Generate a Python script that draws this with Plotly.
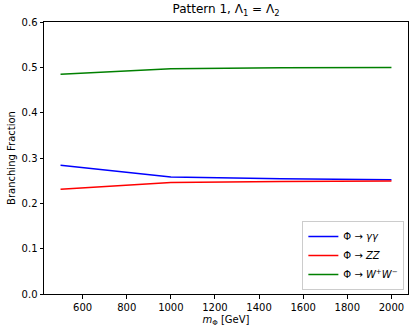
import plotly.graph_objects as go

mass = [500, 1000, 1500, 2000]
br_gamgam = [0.284, 0.258, 0.254, 0.252]
br_zz = [0.231, 0.246, 0.248, 0.249]
br_ww = [0.485, 0.497, 0.499, 0.4995]

series = [
    ("Φ → <i>γγ</i>", br_gamgam, "blue"),
    ("Φ → <i>ZZ</i>", br_zz, "red"),
    ("Φ → <i>W</i><sup>+</sup><i>W</i><sup>−</sup>", br_ww, "green"),
]

fig = go.Figure()
for name, vals, col in series:
    fig.add_trace(go.Scatter(x=mass, y=vals, mode="lines", name=name,
                             line=dict(color=col, width=1.5)))

axis_common = dict(showline=True, linecolor="black", linewidth=1, mirror=True,
                   ticks="outside", ticklen=3.5, tickcolor="black", showgrid=False,
                   zeroline=False, automargin=False, tickfont=dict(size=10, color="black"))

fig.update_layout(
    width=415, height=332,
    margin=dict(l=44, r=7, t=22, b=38),
    paper_bgcolor="white", plot_bgcolor="white",
    font=dict(family="DejaVu Sans", size=10, color="black"),
    title=dict(text="Pattern 1, Λ<sub>1</sub> = Λ<sub>2</sub>", x=0.5, xref="paper",
               xanchor="center", y=0.985, yanchor="top", font=dict(size=12)),
    xaxis=dict(range=[425, 2075], tickvals=[600, 800, 1000, 1200, 1400, 1600, 1800, 2000],
               title=dict(text="<i>m</i><sub>Φ</sub> [GeV]", standoff=4, font=dict(size=10)),
               **axis_common),
    yaxis=dict(range=[0, 0.6], tickvals=[0, 0.1, 0.2, 0.3, 0.4, 0.5, 0.6], tickformat=".1f",
               title=dict(text="Branching Fraction", standoff=4, font=dict(size=10)),
               **axis_common),
    legend=dict(x=0.99, y=0.015, xanchor="right", yanchor="bottom",
                bordercolor="#cccccc", borderwidth=1, bgcolor="rgba(255,255,255,0.8)",
                font=dict(size=10), tracegroupgap=0, itemwidth=30),
    showlegend=True,
)

fig.write_html("out.html", config={"displayModeBar": False},
               post_script="document.body.style.margin='0';document.body.style.overflow='hidden';")
